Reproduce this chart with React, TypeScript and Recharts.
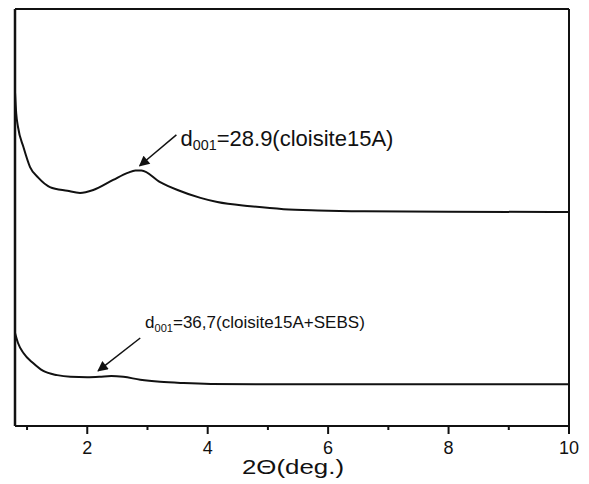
import { LineChart, Line, XAxis, YAxis, ReferenceLine, ReferenceDot } from 'recharts';

// 2θ positions and intensity (arb. units)
const upperX = [0.8, 0.82, 0.85, 0.94, 1.05, 1.19, 1.38, 1.67, 1.88, 2.1, 2.43, 2.67, 2.8, 2.9, 3.21, 3.5, 3.88, 4.16, 4.71, 5.26, 5.83, 6.6, 8.0, 10];
const upperY = [80, 75, 71.7, 66.9, 62.1, 59.5, 57.3, 56.4, 55.9, 56.6, 59.0, 60.7, 61.3, 61.3, 58.5, 56.6, 54.7, 53.7, 52.7, 52.0, 51.7, 51.5, 51.4, 51.3];

const lowerX = [0.8, 0.85, 0.94, 1.1, 1.27, 1.5, 1.72, 2.0, 2.2, 2.4, 2.6, 2.88, 3.21, 3.6, 4.05, 5.0, 7.0, 10];
const lowerY = [22.3, 19.9, 17.5, 15.1, 13.2, 12.2, 11.8, 11.7, 11.8, 12.0, 11.8, 11.1, 10.6, 10.3, 10.1, 10.0, 10.0, 10.0];

const xTicks = [1, 2, 3, 4, 5, 6, 7, 8, 9, 10];
const labelledTicks = [2, 4, 6, 8, 10];
const X_MIN = 0.8;
const X_MAX = 10;

const upperData = upperX.map((x, i) => ({ x, y: upperY[i] }));
const lowerData = lowerX.map((x, i) => ({ x, y: lowerY[i] }));

const FONT = '"Liberation Sans", Arial, sans-serif';
const INK = '#111';

const XTick = (props: any) => {
  const { x, y, payload } = props;
  const major = labelledTicks.includes(payload.value);
  return (
    <g>
      <line x1={x} y1={y} x2={x} y2={y + (major ? 8 : 4)} stroke={INK} strokeWidth={2} />
      {major && (
        <text x={x} y={y + 28} textAnchor="middle" fontSize={18} fontFamily={FONT} fill={INK}>
          {payload.value}
        </text>
      )}
    </g>
  );
};

const annotation = (main: string, rest: string, size: number) => (props: any) => (
  <text x={props.cx} y={props.cy} fontSize={size} fontFamily={FONT} fill={INK}>
    {main}
    <tspan fontSize={size * 0.65} dy={4}>001</tspan>
    <tspan dy={-4}>{rest}</tspan>
  </text>
);

export default function App() {
  return (
    <div style={{ position: 'absolute', left: 0, top: 0, width: 589, height: 484, background: '#fff' }}>
      <LineChart width={589} height={484} margin={{ top: 9, right: 20, left: 15, bottom: 0 }}>
        <defs>
          <marker id="arrowHead" viewBox="0 0 10 10" refX="9" refY="5" markerWidth="8" markerHeight="7" orient="auto">
            <path d="M0,0 L10,5 L0,10 z" fill={INK} />
          </marker>
        </defs>
        <XAxis
          type="number"
          dataKey="x"
          domain={[X_MIN, X_MAX]}
          ticks={xTicks}
          allowDataOverflow
          height={58}
          tickSize={0}
          tickMargin={0}
          tickLine={false}
          axisLine={{ stroke: INK, strokeWidth: 2 }}
          tick={<XTick />}
          label={{
            content: ({ viewBox }: any) => (
              <text
                x={viewBox.x + viewBox.width / 2 - 50}
                y={viewBox.y + 48}
                textLength={102}
                lengthAdjust="spacingAndGlyphs"
                fontSize={21}
                fontFamily={FONT}
                fill={INK}
              >
                2Θ(deg.)
              </text>
            ),
          }}
        />
        <YAxis type="number" domain={[0, 100]} hide />
        {/* plot frame */}
        <ReferenceLine x={X_MIN} stroke={INK} strokeWidth={2.5} ifOverflow="visible" />
        <ReferenceLine x={X_MAX} stroke={INK} strokeWidth={2} ifOverflow="visible" />
        <ReferenceLine y={100} stroke={INK} strokeWidth={2} ifOverflow="visible" />
        <Line data={upperData} dataKey="y" type="monotone" stroke={INK} strokeWidth={2} dot={false} isAnimationActive={false} />
        <Line data={lowerData} dataKey="y" type="monotone" stroke={INK} strokeWidth={2} dot={false} isAnimationActive={false} />
        <ReferenceLine segment={[{ x: 3.48, y: 69.8 }, { x: 2.87, y: 62.4 }]} stroke={INK} strokeWidth={1.5} markerEnd="url(#arrowHead)" />
        <ReferenceLine segment={[{ x: 2.88, y: 21.1 }, { x: 2.18, y: 13.2 }]} stroke={INK} strokeWidth={1.5} markerEnd="url(#arrowHead)" />
        <ReferenceDot x={3.55} y={67.1} r={0} shape={annotation('d', '=28.9(cloisite15A)', 22)} />
        <ReferenceDot x={2.96} y={23.5} r={0} shape={annotation('d', '=36,7(cloisite15A+SEBS)', 17)} />
      </LineChart>
    </div>
  );
}
